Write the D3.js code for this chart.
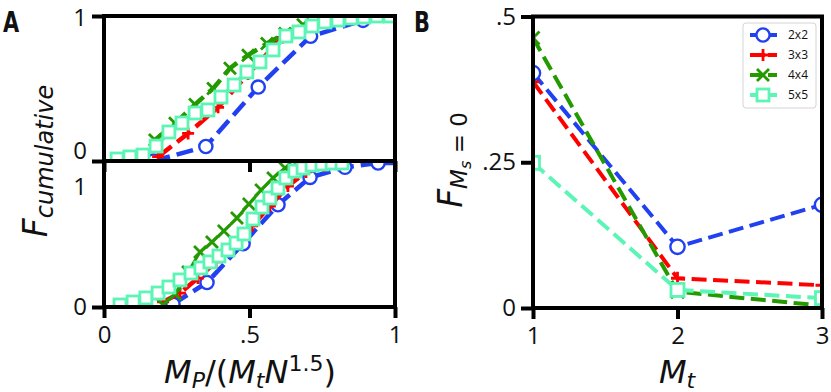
<!DOCTYPE html>
<html>
<head>
<meta charset="utf-8">
<script src="https://cdn.jsdelivr.net/npm/d3@7"></script>
<style>
body { margin: 0; background: #fff; }
text { fill: #111; }
</style>
</head>
<body>
<svg id="chart" width="831" height="392"></svg>
<script>
// series names
var sizes = ['2x2', '3x3', '4x4', '5x5']

// panel A upper: cumulative distribution
var topX_2x2 = [0.17, 0.35, 0.53, 0.71, 0.89, 1.07]
var topY_2x2 = [0.0, 0.10, 0.51, 0.86, 0.97, 1.0]
var topX_3x3 = [0.186, 0.289, 0.392, 0.495, 0.598, 0.70, 0.80, 0.907]
var topY_3x3 = [0.03, 0.19, 0.37, 0.60, 0.82, 0.94, 0.98, 1.0]
var topX_4x4 = [0.175, 0.244, 0.313, 0.375, 0.433, 0.495, 0.56, 0.622, 0.684, 0.746, 0.808, 0.869, 0.931, 0.993]
var topY_4x4 = [0.145, 0.26, 0.39, 0.50, 0.64, 0.73, 0.81, 0.88, 0.94, 0.97, 0.99, 0.99, 1.0, 1.0]
var topX_5x5 = [0.045, 0.089, 0.134, 0.179, 0.223, 0.268, 0.313, 0.357, 0.402, 0.447, 0.491,
	0.536, 0.581, 0.625, 0.670, 0.715, 0.759, 0.804, 0.849, 0.893, 0.938, 0.983]
var topY_5x5 = [0.014, 0.028, 0.041, 0.103, 0.200, 0.262, 0.331, 0.352, 0.441, 0.524, 0.614,
	0.683, 0.766, 0.862, 0.890, 0.931, 0.959, 0.972, 0.986, 0.993, 1.0, 1.0]

// panel A lower
var botX_2x2 = [0.237, 0.354, 0.478, 0.598, 0.708, 0.828, 0.942, 1.06]
var botY_2x2 = [0.02, 0.17, 0.44, 0.71, 0.90, 0.97, 1.0, 1.0]
var botX_3x3 = [0.203, 0.261, 0.323, 0.385, 0.447, 0.509, 0.570, 0.632, 0.694, 0.756, 0.818]
var botY_3x3 = [0.035, 0.097, 0.201, 0.313, 0.431, 0.563, 0.701, 0.840, 0.938, 0.979, 1.0]
var botX_4x4 = [0.203, 0.244, 0.289, 0.330, 0.371, 0.412, 0.457, 0.498, 0.540, 0.581, 0.622, 0.663, 0.704, 0.746]
var botY_4x4 = [0.014, 0.090, 0.243, 0.382, 0.451, 0.528, 0.618, 0.715, 0.813, 0.896, 0.965, 0.993, 1.0, 1.0]
var botX_5x5 = [0.055, 0.100, 0.144, 0.186, 0.223, 0.261, 0.299, 0.333, 0.364, 0.395, 0.426, 0.454, 0.481,
	0.512, 0.543, 0.570, 0.598, 0.625, 0.656, 0.684, 0.715, 0.749, 0.784, 0.818]
var botY_5x5 = [0.014, 0.035, 0.063, 0.097, 0.139, 0.188, 0.236, 0.271, 0.313, 0.354, 0.396, 0.444, 0.507,
	0.611, 0.694, 0.757, 0.826, 0.896, 0.944, 0.965, 0.986, 0.993, 1.0, 1.0]

// panel B: fraction with Ms = 0 against Mt
var mt = [1, 2, 3]
var fMs0_2x2 = [0.403, 0.105, 0.177]
var fMs0_3x3 = [0.388, 0.051, 0.039]
var fMs0_4x4 = [0.463, 0.028, 0.004]
var fMs0_5x5 = [0.249, 0.031, 0.017]

// tick labels
var aXTicks = [0, 0.5, 1]
var aXLabels = ['0', '.5', '1']
var aYTicks = [0, 1]
var bXTicks = [1, 2, 3]
var bYTicks = [0, 0.25, 0.5]
var bYLabels = ['0', '.25', '.5']

var style = {
	'2x2': {color: '#2140f2', sym: 'circle'},
	'3x3': {color: '#ff0000', sym: 'plus'},
	'4x4': {color: '#229a00', sym: 'cross'},
	'5x5': {color: '#5cf5b6', sym: 'square'}
}

var svg = d3.select('#chart')
var tickFont = "'Open Sans', 'DejaVu Sans', sans-serif"
var mathFont = "'DejaVu Sans', sans-serif"

// scales
var ax = d3.scaleLinear().domain([0, 1]).range([104, 395])
var ayTop = d3.scaleLinear().domain([0, 1]).range([161, 16])
var ayBot = d3.scaleLinear().domain([0, 1]).range([307, 163])
var bx = d3.scaleLinear().domain([1, 3]).range([533, 822])
var by = d3.scaleLinear().domain([0, 0.5]).range([308, 16.5])

var defs = svg.append('defs')
function clip(id, x, y, w, h) {
	defs.append('clipPath').attr('id', id).append('rect')
		.attr('x', x).attr('y', y).attr('width', w).attr('height', h)
}
clip('cTop', 104, 16, 291, 145)
clip('cBot', 104, 161, 291, 146)
clip('cB', 533, 16.5, 289, 291.5)

function drawMarker(g, sym, color, s) {
	if (sym == 'circle') {
		g.append('circle').attr('r', s * 0.55).attr('fill', '#fff')
			.attr('stroke', color).attr('stroke-width', 2.4)
	} else if (sym == 'square') {
		g.append('rect').attr('x', -s / 2).attr('y', -s / 2).attr('width', s).attr('height', s)
			.attr('fill', '#fff').attr('stroke', color).attr('stroke-width', 2.8)
	} else if (sym == 'plus') {
		var h = s / 2
		g.append('path').attr('d', `M${-h},0H${h}M0,${-h}V${h}`)
			.attr('stroke', color).attr('stroke-width', 2.8).attr('fill', 'none')
	} else {
		var h = s / 2
		g.append('path').attr('d', `M${-h},${-h}L${h},${h}M${-h},${h}L${h},${-h}`)
			.attr('stroke', color).attr('stroke-width', 2.8).attr('fill', 'none')
	}
}

function drawSeries(clipId, xs, ys, sx, sy, name, lw, dash, msize) {
	var st = style[name]
	var pts = xs.map((v, i) => [v, ys[i]])
	var g = svg.append('g').attr('clip-path', `url(#${clipId})`)
	g.append('path')
		.attr('d', d3.line().x(d => sx(d[0])).y(d => sy(d[1]))(pts))
		.attr('fill', 'none')
		.attr('stroke', st.color)
		.attr('stroke-width', lw)
		.attr('stroke-dasharray', dash)
	pts.forEach(function(d) {
		var m = g.append('g').attr('transform', `translate(${sx(d[0])},${sy(d[1])})`)
		drawMarker(m, st.sym, st.color, msize)
	})
}

// panel A data
var topData = {'2x2': [topX_2x2, topY_2x2], '3x3': [topX_3x3, topY_3x3], '4x4': [topX_4x4, topY_4x4], '5x5': [topX_5x5, topY_5x5]}
var botData = {'2x2': [botX_2x2, botY_2x2], '3x3': [botX_3x3, botY_3x3], '4x4': [botX_4x4, botY_4x4], '5x5': [botX_5x5, botY_5x5]}
sizes.forEach(function(n) {
	drawSeries('cTop', topData[n][0], topData[n][1], ax, ayTop, n, 4.5, '17,7', 12)
})
sizes.forEach(function(n) {
	// the 4x4 curve of the lower panel is solid
	drawSeries('cBot', botData[n][0], botData[n][1], ax, ayBot, n, n == '4x4' ? 3 : 4.5, n == '4x4' ? null : '17,7', 12)
})

// panel B data
var bData = {'2x2': fMs0_2x2, '3x3': fMs0_3x3, '4x4': fMs0_4x4, '5x5': fMs0_5x5}
sizes.forEach(function(n) {
	drawSeries('cB', mt, bData[n], bx, by, n, 4, '15,6.5', 13)
})

// axes helper
function styleAxis(g) {
	g.selectAll('.domain').remove()
	g.selectAll('.tick line').attr('stroke', '#000').attr('stroke-width', 4)
	g.selectAll('.tick text').attr('font-family', tickFont).attr('font-size', 24).attr('fill', '#111')
}
function frame(x0, y0, x1, y1) {
	svg.append('rect').attr('x', x0).attr('y', y0).attr('width', x1 - x0).attr('height', y1 - y0)
		.attr('fill', 'none').attr('stroke', '#000').attr('stroke-width', 4)
}

// panel A upper axes
svg.append('g').attr('transform', 'translate(0,161)')
	.call(d3.axisBottom(ax).tickValues(aXTicks).tickSize(11).tickFormat(''))
	.call(styleAxis)
svg.append('g').attr('transform', 'translate(104,0)')
	.call(d3.axisLeft(ayTop).tickValues(aYTicks).tickSize(12).tickPadding(5).tickFormat(d3.format('d')))
	.call(styleAxis)
	.selectAll('.tick text').attr('dy', d => d == 0 ? '-0.12em' : '0.4em')
// panel A lower axes
svg.append('g').attr('transform', 'translate(0,307)')
	.call(d3.axisBottom(ax).tickValues(aXTicks).tickSize(11).tickPadding(8).tickFormat((d, i) => aXLabels[i]))
	.call(styleAxis)
var botY = svg.append('g').attr('transform', 'translate(104,0)')
	.call(d3.axisLeft(ayBot).tickValues(aYTicks).tickSize(12).tickPadding(5).tickFormat(d3.format('d')))
	.call(styleAxis)
botY.selectAll('.tick line').filter(d => d == 1).remove()
botY.selectAll('.tick text').attr('dy', d => d == 1 ? '1.3em' : '0.32em')
frame(104, 16, 395, 161)
frame(104, 161, 395, 307)

// panel B axes
svg.append('g').attr('transform', 'translate(0,308)')
	.call(d3.axisBottom(bx).tickValues(bXTicks).tickSize(11).tickPadding(8).tickFormat(d3.format('d')))
	.call(styleAxis)
svg.append('g').attr('transform', 'translate(533,0)')
	.call(d3.axisLeft(by).tickValues(bYTicks).tickSize(12).tickPadding(5).tickFormat((d, i) => bYLabels[i]))
	.call(styleAxis)
frame(533, 16.5, 822, 308)

// legend
var leg = svg.append('g').attr('transform', 'translate(743,23)')
leg.append('rect').attr('width', 73).attr('height', 85).attr('rx', 3)
	.attr('fill', '#fff').attr('stroke', '#d4d4d4').attr('stroke-width', 1)
sizes.forEach(function(n, i) {
	var st = style[n]
	var row = leg.append('g').attr('transform', `translate(0,${12 + i * 20})`)
	row.append('line').attr('x1', 7).attr('x2', 34).attr('stroke', st.color)
		.attr('stroke-width', 4).attr('stroke-dasharray', '15,3')
	drawMarker(row.append('g').attr('transform', 'translate(20,0)'), st.sym, st.color, 12)
	row.append('text').attr('x', 45).attr('dy', '0.35em').text(n)
		.attr('font-family', tickFont).attr('font-size', 12)
})

// panel letters
svg.append('text').attr('transform', 'translate(3,32) scale(0.72,1)').text('A')
	.attr('font-family', "'DejaVu Sans', sans-serif").attr('font-weight', 'bold').attr('font-size', 29)
svg.append('text').attr('transform', 'translate(414,32) scale(0.72,1)').text('B')
	.attr('font-family', "'DejaVu Sans', sans-serif").attr('font-weight', 'bold').attr('font-size', 29)

// axis titles
var t = svg.append('text').attr('x', 250).attr('y', 383).attr('text-anchor', 'middle')
	.attr('font-family', mathFont).attr('font-size', 32)
t.append('tspan').attr('font-style', 'italic').text('M')
t.append('tspan').attr('font-style', 'italic').attr('font-size', 22).attr('dy', 5).text('P')
t.append('tspan').attr('dy', -5).text('/(')
t.append('tspan').attr('font-style', 'italic').text('M')
t.append('tspan').attr('font-style', 'italic').attr('font-size', 22).attr('dy', 5).text('t')
t.append('tspan').attr('font-style', 'italic').attr('dy', -5).text('N')
t.append('tspan').attr('font-size', 22).attr('dy', -12).text('1.5')
t.append('tspan').attr('dy', 12).text(')')

var t2 = svg.append('text').attr('x', 677).attr('y', 383).attr('text-anchor', 'middle')
	.attr('font-family', mathFont).attr('font-size', 32)
t2.append('tspan').attr('font-style', 'italic').text('M')
t2.append('tspan').attr('font-style', 'italic').attr('font-size', 22).attr('dy', 5).text('t')

var t3 = svg.append('text').attr('transform', 'translate(47,161) rotate(-90)').attr('text-anchor', 'middle')
	.attr('font-family', mathFont).attr('font-size', 33)
t3.append('tspan').attr('font-style', 'italic').text('F')
t3.append('tspan').attr('font-style', 'italic').attr('font-size', 24).attr('dy', 6).text('cumulative')

var t4 = svg.append('text').attr('transform', 'translate(462,160) rotate(-90)').attr('text-anchor', 'middle')
	.attr('font-family', mathFont).attr('font-size', 33)
t4.append('tspan').attr('font-style', 'italic').text('F')
t4.append('tspan').attr('font-style', 'italic').attr('font-size', 23).attr('dy', 5).text('M')
t4.append('tspan').attr('font-style', 'italic').attr('font-size', 16).attr('dy', 4).text('s')
t4.append('tspan').attr('font-size', 23).attr('dy', -4).text(' = 0')
</script>
</body>
</html>
